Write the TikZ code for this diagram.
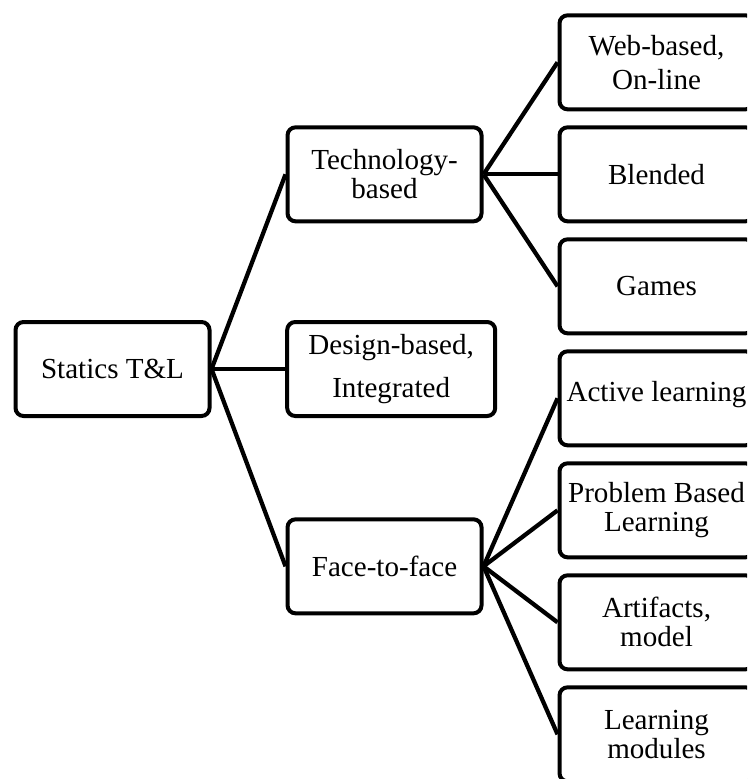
\documentclass[tikz,border=0pt]{standalone}
\usepackage{fontspec}
\setmainfont{Liberation Serif}
\usetikzlibrary{positioning}

\begin{document}
\begin{tikzpicture}[node distance=204pt,
  box/.style={draw, line width=3pt, rounded corners=6pt, align=center,
    minimum width=145.5pt, minimum height=70.5pt, inner sep=2pt,
    font=\fontsize{21.8}{21.75}\selectfont}]
  \clip (-84.4pt,-307.5pt) rectangle (475.9pt,276.75pt);
  % root and the three main branches
  \node[box] (root) {Statics T\&L};
  \node[box] (tech) [right of=root, yshift=146pt] {Technology-\\based};
  \node[box, minimum width=156pt] (design) [right of=root, xshift=5pt]
    {Design-based,\\[10pt]Integrated};
  \node[box] (face) [right of=root, yshift=-148pt] {Face-to-face};
  % technology-based leaves
  \node[box] (web) [right of=tech, yshift=84pt] {Web-based,\\[3.75pt]On-line};
  \node[box] (blend) [right of=tech] {Blended};
  \node[box] (games) [right of=tech, yshift=-84pt] {Games};
  % face-to-face leaves
  \node[box] (active) [right of=face, yshift=126pt] {\raisebox{10pt}{Active learning}};
  \node[box] (pbl) [right of=face, yshift=42pt] {Problem Based\\Learning};
  \node[box] (artif) [right of=face, yshift=-42pt] {Artifacts,\\model};
  \node[box] (modul) [right of=face, yshift=-126pt] {Learning\\modules};
  \path[every edge/.style={draw, line width=3.2pt}]
    (root.east) edge (tech.west)
    (root.east) edge (design.west)
    (root.east) edge (face.west)
    (tech.east) edge (web.west)
    (tech.east) edge (blend.west)
    (tech.east) edge (games.west)
    (face.east) edge (active.west)
    (face.east) edge (pbl.west)
    (face.east) edge (artif.west)
    (face.east) edge (modul.west);
\end{tikzpicture}
\end{document}
